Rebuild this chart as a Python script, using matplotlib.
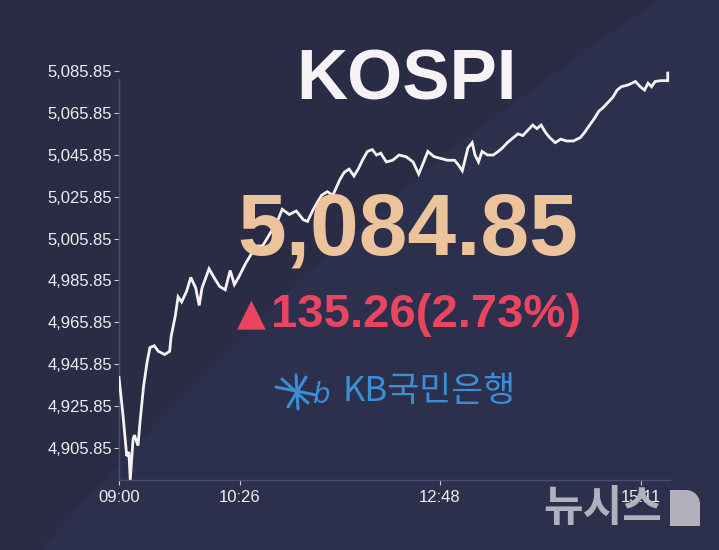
import numpy as np
import matplotlib
matplotlib.use("Agg")
import matplotlib.pyplot as plt
from matplotlib.patches import Polygon

# minutes after 09:00 and KOSPI level
minutes = [0, 3, 5.5, 7, 8, 10, 11, 13.5, 15, 17.5,
           20, 22, 25, 28, 32.5, 36, 37, 40, 42, 44.5,
           48, 51, 54.5, 57, 59, 64, 67.5, 71.5, 75.5, 79,
           82, 85, 90, 94.5, 98.5, 102, 105, 108, 111.5, 116,
           121, 126, 131, 134, 137.5, 141, 144, 148, 152, 157,
           160, 163.5, 167, 170, 173, 176.5, 180, 183, 186, 190,
           194.5, 199, 204, 209, 213, 215.5, 219.5, 224, 228.5, 233.5,
           238.5, 241.5, 244, 248, 251, 253, 255.5, 258, 262, 266,
           269.5, 272.5, 276, 279, 283.5, 287, 290.5, 294, 297, 300,
           303, 306, 310, 314, 318, 323, 328, 331, 334.5, 338,
           341, 344, 347.5, 351, 354, 357, 362, 367, 370.5, 373.5,
           376, 378.5, 381, 385, 390, 390]
kospi = [4939.6, 4920.4, 4902.0, 4904.0, 4890.7, 4910.0, 4912.0, 4907.0, 4918.8, 4935.5,
         4947.0, 4953.8, 4954.7, 4952.0, 4950.5, 4952.0, 4958.9, 4968.9, 4978.0, 4975.6,
         4980.6, 4987.3, 4982.3, 4973.9, 4982.3, 4991.4, 4987.3, 4983.0, 4981.4, 4990.6,
         4983.9, 4987.3, 4994.0, 4999.0, 5002.3, 5002.3, 5005.6, 5009.0, 5012.3, 5019.8,
         5017.3, 5019.0, 5014.8, 5014.0, 5019.0, 5023.2, 5026.5, 5028.2, 5026.5, 5034.0,
         5037.4, 5039.0, 5035.7, 5039.0, 5043.2, 5047.4, 5048.3, 5045.7, 5046.6, 5042.4,
         5043.2, 5045.7, 5044.9, 5042.4, 5036.6, 5040.7, 5047.4, 5044.9, 5044.1, 5043.2,
         5043.2, 5040.7, 5038.2, 5049.1, 5051.6, 5045.7, 5042.4, 5047.4, 5045.7, 5045.7,
         5047.4, 5049.1, 5051.6, 5053.3, 5055.8, 5055.0, 5057.5, 5060.0, 5058.3, 5060.0,
         5056.6, 5054.1, 5051.6, 5053.3, 5052.4, 5052.4, 5054.1, 5056.6, 5060.0, 5063.3,
         5066.6, 5068.3, 5070.8, 5073.3, 5076.7, 5078.3, 5079.2, 5080.8, 5078.3, 5076.7,
         5080.0, 5078.3, 5080.8, 5081.2, 5081.2, 5084.85]

ytick_vals = [4905.85, 4925.85, 4945.85, 4965.85, 4985.85,
              5005.85, 5025.85, 5045.85, 5065.85, 5085.85]
xtick_vals = [0, 86, 228, 371]
xtick_labels = ["09:00", "10:26", "12:48", "15:11"]

title = "KOSPI"
last_value = "5,084.85"
change_text = "135.26(2.73%)"
sponsor = "KB국민은행"
watermark = "뉴시스"

W, H = 719, 550
bg = "#2a2c45"
fig = plt.figure(figsize=(W / 100, H / 100), dpi=100, facecolor=bg)


def px(x, y):
    # pixel position (from top-left) to figure fraction
    return x / W, 1 - y / H


# faint lighter band on the right of the screen
band = Polygon([px(40, 550), px(160, 420), px(300, 280), px(450, 150), px(600, 40),
                px(660, 0), px(719, 0), px(719, 550)],
               closed=True, transform=fig.transFigure, facecolor="#323a5e",
               edgecolor="none", alpha=0.35, zorder=-5)
fig.patches.append(band)

y0, y1 = 4890.6, 5087.0
ax = fig.add_axes([119 / W, 70 / H, (670 - 119) / W, 411.5 / H], zorder=2)
ax.set_facecolor("none")
ax.plot(minutes, kospi, color="#f6f1f3", linewidth=2.0, solid_joinstyle="miter", zorder=3)
ax.set_xlim(0, 391.6)
ax.set_ylim(y0, y1)

for s in ["top", "right"]:
    ax.spines[s].set_visible(False)
for s in ["left", "bottom"]:
    ax.spines[s].set_color("#465075")
    ax.spines[s].set_linewidth(1.0)
ax.spines["left"].set_bounds(y0, 5082.0)

ax.set_yticks(ytick_vals)
ax.set_yticklabels([f"{v:,.2f}" for v in ytick_vals])
ax.set_xticks(xtick_vals)
ax.set_xticklabels(xtick_labels)
ax.tick_params(axis="both", colors="#c9c9d6", labelcolor="#f0ecf2", length=3.5, width=0.8,
               labelsize=12)
ax.tick_params(axis="y", pad=1.5)
ax.tick_params(axis="x", pad=4)
for lab in ax.get_xticklabels() + ax.get_yticklabels():
    lab.set_family(["Liberation Sans", "DejaVu Sans"])

# big screen texts
fig.text(*px(406, 82), title, ha="center", va="center", fontsize=51, fontweight="bold",
         color="#f6f2f5", family="Liberation Sans")
fig.text(*px(408, 232), last_value, ha="center", va="center", fontsize=63, fontweight="bold",
         color="#ecc39b", family="Liberation Sans")
fig.text(*px(251, 315), "▲", ha="center", va="center", fontsize=27,
         color="#ea4560", family="DejaVu Sans")
fig.text(*px(271, 315), change_text, ha="left", va="center", fontsize=34, fontweight="bold",
         color="#ea4560", family="Liberation Sans")

# KB logo: star strokes + b
kb_blue = "#3a8ed6"
cx, cy = 296, 391
for (dx0, dy0, dx1, dy1) in [(-20, -4, 20, 4), (-14, -12, 12, 12), (10, -14, -8, 16),
                             (0, -16, 2, 18)]:
    fig.lines.append(plt.Line2D([(cx + dx0) / W, (cx + dx1) / W],
                                [1 - (cy + dy0) / H, 1 - (cy + dy1) / H],
                                transform=fig.transFigure, color=kb_blue, linewidth=2.2,
                                solid_capstyle="round"))
fig.text(*px(322, 395), "b", ha="center", va="center", fontsize=20, style="italic",
         color=kb_blue, family="DejaVu Sans")
fig.text(*px(343, 392), sponsor, ha="left", va="center", fontsize=25,
         color=kb_blue, family=["Noto Sans CJK KR", "DejaVu Sans"])

# newsis watermark
wm_col = "#b9b8c3"
fig.text(*px(543, 508), watermark, ha="left", va="center", fontsize=31, fontweight="black",
         color=wm_col, family=["Noto Sans CJK KR", "DejaVu Sans"], alpha=0.95, zorder=10)
# "D" block: flat left side, rounded upper-right corner
ang = np.linspace(np.pi / 2, 0, 12)
d_pts = [px(670, 526), px(670, 490)] + \
        [px(686 + 14 * np.cos(a), 504 - 14 * np.sin(a)) for a in ang] + [px(700, 526)]
fig.patches.append(Polygon(d_pts, closed=True, transform=fig.transFigure,
                           facecolor=wm_col, edgecolor="none", alpha=0.95, zorder=10))

fig.savefig("out.png", dpi=100, facecolor=bg)
